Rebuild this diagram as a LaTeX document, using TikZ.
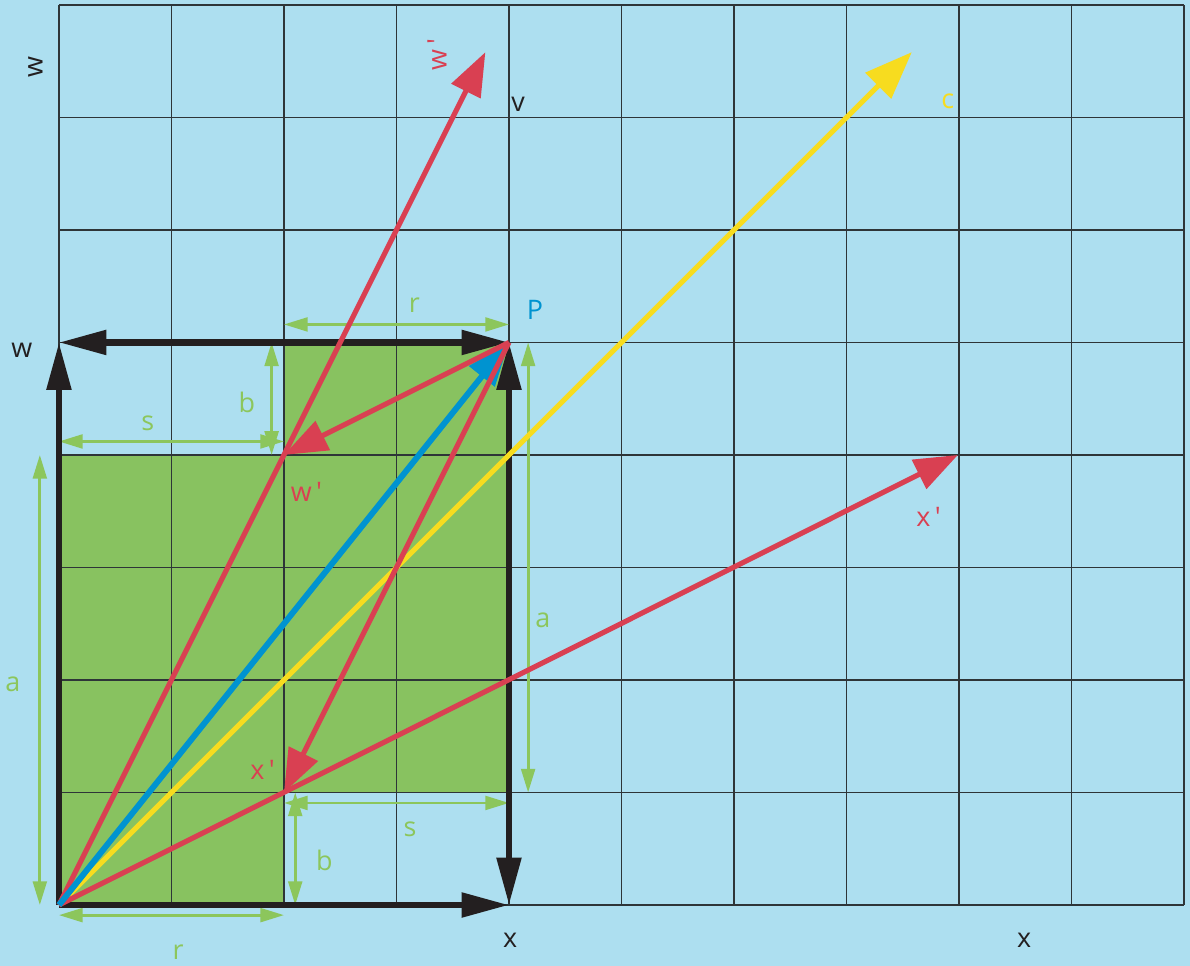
\documentclass[tikz,border=0pt]{standalone}
\usepackage{fontspec}
\setmainfont{Open Sans}
\usetikzlibrary{arrows.meta}
\definecolor{skyblue}{HTML}{ADDFF0}
\definecolor{leafgreen}{HTML}{88C260}
\definecolor{dimgreen}{HTML}{8CC65C}
\definecolor{vecred}{HTML}{D94052}
\definecolor{vecblue}{HTML}{0093D0}
\definecolor{vecyellow}{HTML}{F7DC1F}
\definecolor{axisblack}{HTML}{231F20}
\definecolor{gridgray}{HTML}{2E3538}

\begin{document}
\begin{tikzpicture}[
    axis/.style={axisblack, line width=1.6pt},
    axtip/.tip={Triangle[length=12pt, width=6pt]},
    vec/.style={line width=1.3pt, -{Triangle[length=11pt, width=8pt]}},
    dim/.style={dimgreen, line width=0.7pt, {Triangle[length=6pt, width=3.5pt]}-{Triangle[length=6pt, width=3.5pt]}},
    lbl/.style={font=\fontsize{6.8}{8}\selectfont, inner sep=0pt}
  ]
  \useasboundingbox[fill=skyblue] (-0.524,-0.542) rectangle (10.053,8.044);

  % points
  \coordinate (O) at (0,0);
  \coordinate (X) at (4,0);
  \coordinate (W) at (0,5);
  \coordinate (P) at (4,5);
  \coordinate (Wp) at (2,4);
  \coordinate (Xp) at (2,1);
  \coordinate (Wtip) at (3.79,7.58);
  \coordinate (Xtip) at (7.99,4.0);
  \coordinate (Ctip) at (7.58,7.58);

  % green areas and grid
  \fill[leafgreen] (0,0) rectangle (2,4);
  \fill[leafgreen] (2,1) rectangle (4,5);
  \draw[gridgray, line width=0.45pt] (0,0) grid (10,8);

  % dimension arrows
  \coordinate (rt1) at (2,5.16);    \coordinate (rt2) at (4,5.16);
  \coordinate (bt1) at (1.89,4);    \coordinate (bt2) at (1.89,5);
  \coordinate (st1) at (0,4.12);    \coordinate (st2) at (2,4.12);
  \coordinate (al1) at (-0.17,0);   \coordinate (al2) at (-0.17,4);
  \coordinate (ar1) at (4.17,1);    \coordinate (ar2) at (4.17,5);
  \coordinate (sb1) at (2,0.907);   \coordinate (sb2) at (4,0.907);
  \coordinate (bb1) at (2.1,0);     \coordinate (bb2) at (2.1,1);
  \coordinate (rb1) at (0,-0.09);   \coordinate (rb2) at (2,-0.09);
  \foreach \a/\b in {rt1/rt2, bt1/bt2, st1/st2, al1/al2, ar1/ar2, sb1/sb2, bb1/bb2, rb1/rb2}
    \draw[dim] (\a) -- (\b);

  % axes
  \draw[axis, -axtip] (O) -- (X);
  \draw[axis, -axtip] (O) -- (W);
  \draw[axis, axtip-axtip] (W) -- (P);
  \draw[axis, axtip-axtip] (P) -- (X);

  % vectors
  \draw[vec, vecyellow, -{Triangle[length=12pt, width=9pt]}] (O) -- (Ctip);
  \draw[vec, vecred] (O) -- (Wtip);
  \draw[vec, vecred] (O) -- (Xtip);
  \draw[vec, vecblue, line width=1.5pt] (O) -- (P);
  \draw[vec, vecred] (P) -- (Wp);
  \draw[vec, vecred] (P) -- (Xp);

  % labels
  \node[lbl, axisblack] (lw) at (-0.33,4.93) {w};
  \node[lbl, axisblack] (lx) at (4.01,-0.31) {x};
  \node[lbl, axisblack] (lxfar) at (8.58,-0.31) {x};
  \node[lbl, axisblack, rotate=90] (lwtop) at (-0.21,7.45) {w};
  \node[lbl, axisblack] (lv) at (4.08,7.12) {v};
  \node[lbl, vecyellow] (lc) at (7.9,7.14) {c};
  \node[lbl, vecblue] (lP) at (4.23,5.29) {P};
  \node[lbl, vecred] (lwp) at (2.2,3.67) {w\,\textquotesingle};
  \node[lbl, vecred] (lxp) at (1.81,1.2) {x\,\textquotesingle};
  \node[lbl, vecred] (lxpfar) at (7.73,3.45) {x\,\textquotesingle};
  \node[lbl, vecred, rotate=90] (lwptop) at (3.36,7.56) {w\,\textquotesingle};
  \node[lbl, dimgreen] (lrt) at (3.16,5.33) {r};
  \node[lbl, dimgreen] (lbt) at (1.67,4.47) {b};
  \node[lbl, dimgreen] (lst) at (0.79,4.28) {s};
  \node[lbl, dimgreen] (lal) at (-0.41,1.96) {a};
  \node[lbl, dimgreen] (lar) at (4.30,2.53) {a};
  \node[lbl, dimgreen] (lsb) at (3.12,0.67) {s};
  \node[lbl, dimgreen] (lbb) at (2.36,0.40) {b};
  \node[lbl, dimgreen] (lrb) at (1.06,-0.42) {r};
\end{tikzpicture}
\end{document}
